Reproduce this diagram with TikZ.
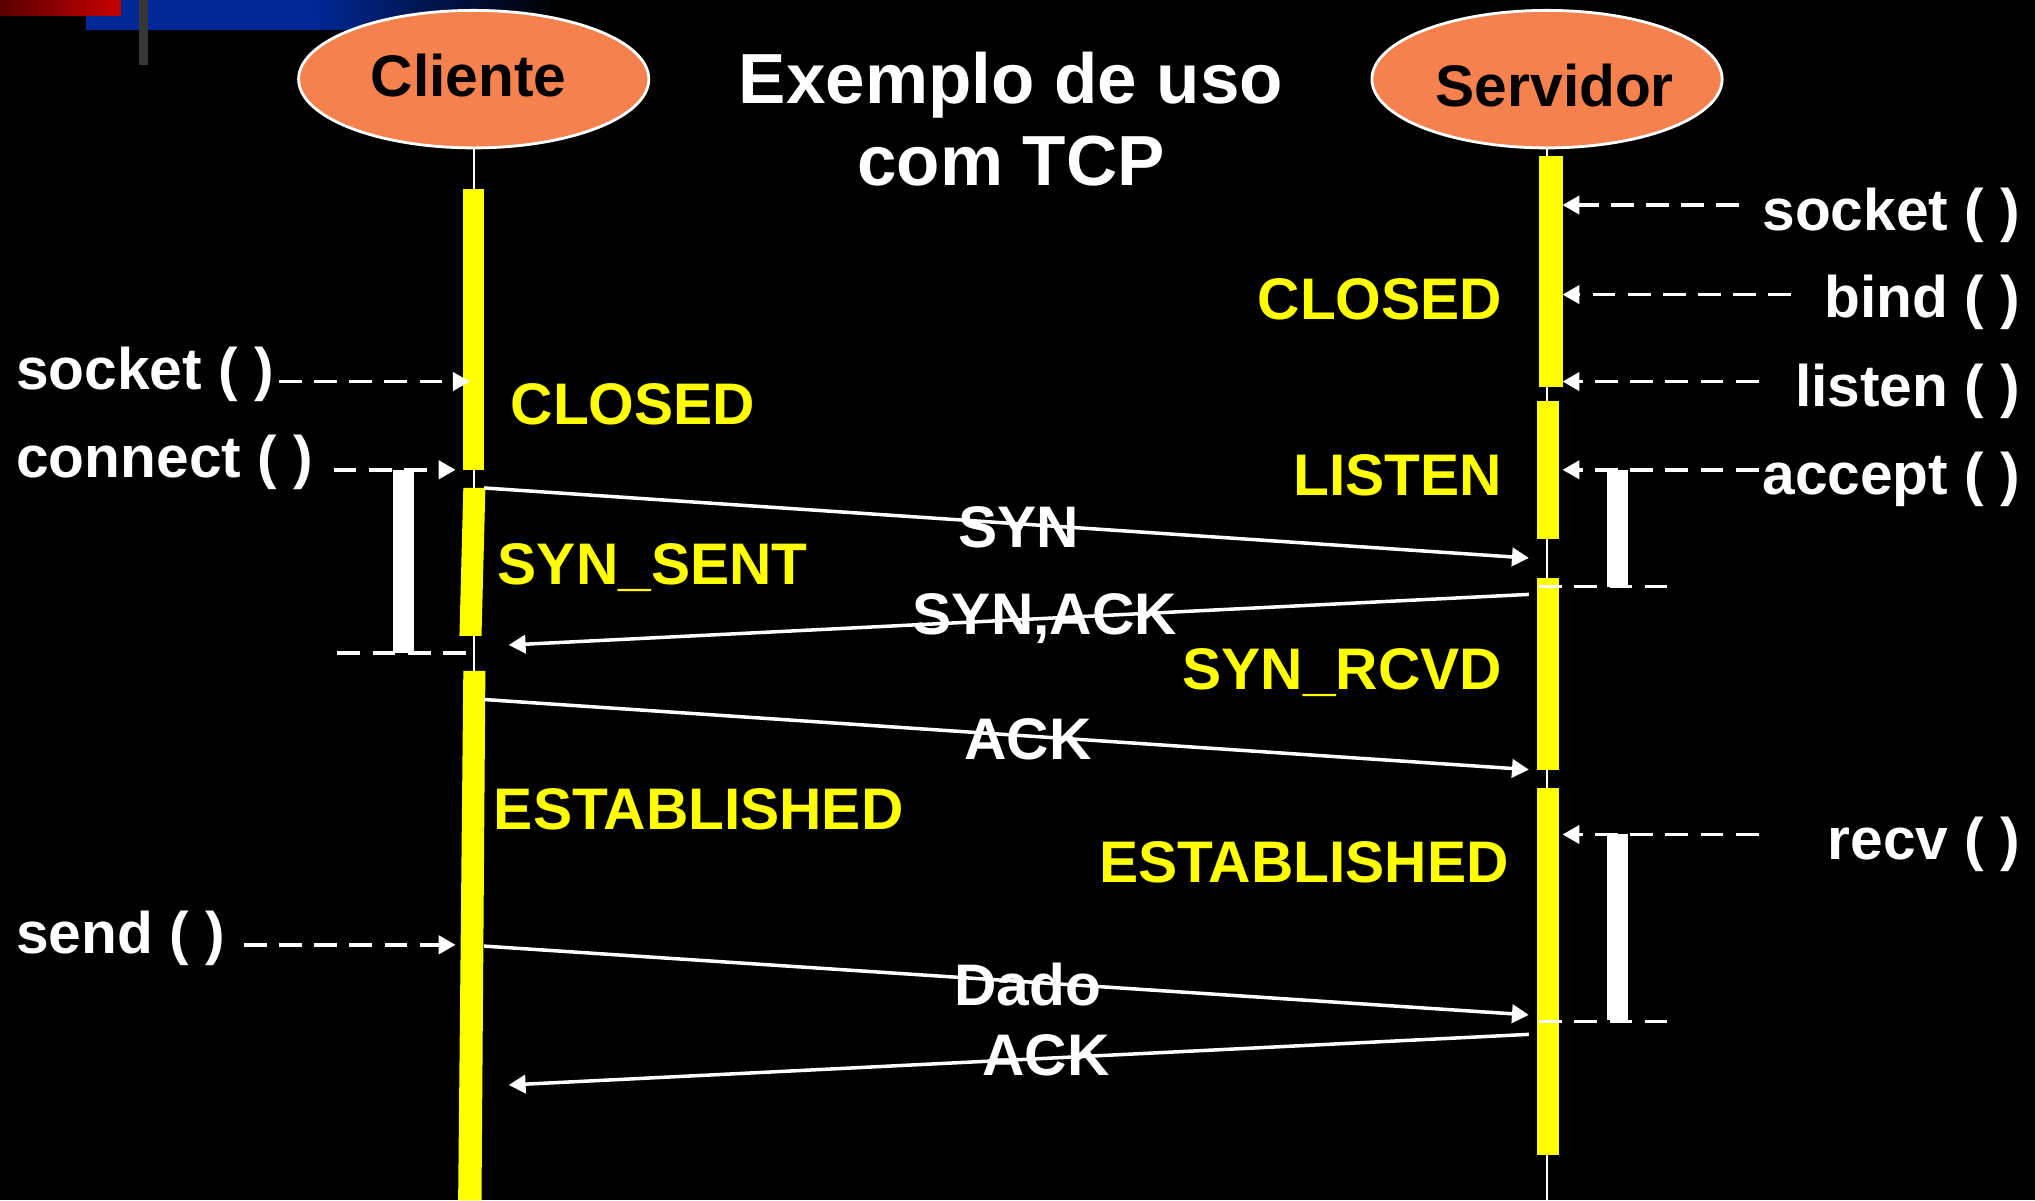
\documentclass[tikz,border=0pt]{standalone}
\usepackage{fontspec}
\setmainfont{Liberation Sans}
\usetikzlibrary{arrows.meta,shapes.geometric}
\definecolor{actorfill}{RGB}{244,129,78}
\definecolor{stateyellow}{RGB}{255,255,0}
\definecolor{barblue}{RGB}{0,40,150}
\definecolor{barred}{RGB}{200,0,0}
\definecolor{darkred}{RGB}{90,0,0}
\definecolor{bargray}{RGB}{55,55,55}
\newcommand\lblfont{\fontsize{16.7}{20}\selectfont\bfseries}
\newcommand\ttlfont{\fontsize{20.2}{23.3}\selectfont\bfseries}
\begin{document}
\begin{tikzpicture}[x=0.012978cm, y=-0.012978cm,
  lbl/.style={text=white, font=\lblfont, inner sep=0pt},
  state/.style={text=stateyellow, font=\lblfont, inner sep=0pt},
  ttl/.style={text=white, font=\ttlfont, inner sep=0pt},
  actor/.style={ellipse, fill=actorfill, draw=white, line width=0.8pt,
    minimum width=3.504cm, minimum height=1.376cm, inner sep=0pt},
  actorname/.style={text=black, font=\lblfont, inner sep=0pt},
  lifeline/.style={white, line width=0.45pt},
  bar/.style={fill=stateyellow},
  waitbar/.style={fill=white},
  tip/.style={-{Triangle[length=4.8pt,width=5.2pt]}},
  call/.style={white, line width=1pt, dash pattern=on 6.5pt off 3.5pt, tip},
  msg/.style={white, line width=1pt, tip},
  tick/.style={white, line width=1pt, dash pattern=on 6.5pt off 3.5pt}]

% background and frame
\fill[black] (0,0) rectangle (1568,925);
\useasboundingbox (0,0) rectangle (1568,925);

% corner decoration
\fill[barblue] (66,0) rectangle (241,23);
\shade[left color=barblue, right color=black] (240,0) rectangle (430,23);
\shade[left color=darkred, right color=barred] (0,0) rectangle (93,12);
\fill[bargray] (107,0) rectangle (114,50);

% title
\node[ttl, anchor=base] (title1) at (779,80) {Exemplo de uso};
\node[ttl, anchor=base] (title2) at (779,143) {com TCP};

% actors
\node[actor] (cli) at (365,61) {};
\node[actorname, anchor=base] (cliname) at (361,74) {Cliente};
\node[actor] (srv) at (1192,61) {};
\node[actorname, anchor=base] (srvname) at (1198,82) {Servidor};

% lifelines
\coordinate (cbot) at (365,925);
\coordinate (sbot) at (1192,925);
\draw[lifeline] (cli.south) -- (cbot);
\draw[lifeline] (srv.south) -- (sbot);

% client activation bars
\fill[bar] (357,146) rectangle (373,362);
\fill[bar] (357,376) -- (374,376) -- (371,490) -- (354,490) -- cycle;
\fill[bar] (357,517) -- (374,517) -- (371,925) -- (353,925) -- cycle;

% server activation bars
\fill[bar] (1186,120) rectangle (1204,298);
\fill[bar] (1184,309) rectangle (1201,415);
\fill[bar] (1184,445) rectangle (1201,593);
\fill[bar] (1184,607) rectangle (1201,890);

% blocking calls
\fill[waitbar] (303,362) rectangle (319,503);
\fill[waitbar] (1238,362) rectangle (1254,452);
\fill[waitbar] (1238,643) rectangle (1254,786);
\coordinate (ct0) at (260,503);  \coordinate (ct1) at (365,503);
\coordinate (st0) at (1186,452); \coordinate (st1) at (1285,452);
\coordinate (su0) at (1186,787); \coordinate (su1) at (1285,787);
\draw[tick] (ct0) -- (ct1);
\draw[tick] (st0) -- (st1);
\draw[tick] (su0) -- (su1);

% client calls
\node[lbl, anchor=base west] (lsock) at (12,300) {socket ( )};
\node[lbl, anchor=base west] (lconn) at (12,368) {connect ( )};
\node[lbl, anchor=base west] (lsend) at (12,735) {send ( )};
\coordinate (lsock0) at (215,294); \coordinate (lsock1) at (362,294);
\coordinate (lconn0) at (257,362); \coordinate (lconn1) at (351,362);
\coordinate (lsend0) at (188,728); \coordinate (lsend1) at (351,728);
\draw[call] (lsock0) -- (lsock1);
\draw[call] (lconn0) -- (lconn1);
\draw[call] (lsend0) -- (lsend1);

% server calls
\node[lbl, anchor=base east] (rsock) at (1557,178) {socket ( )};
\node[lbl, anchor=base east] (rbind) at (1557,245) {bind ( )};
\node[lbl, anchor=base east] (rlist) at (1557,313) {listen ( )};
\node[lbl, anchor=base east] (racc) at (1557,381) {accept ( )};
\node[lbl, anchor=base east] (rrecv) at (1557,662) {recv ( )};
\coordinate (rsock0) at (1340,158); \coordinate (rsock1) at (1204,158);
\coordinate (rbind0) at (1380,227); \coordinate (rbind1) at (1204,227);
\coordinate (rlist0) at (1355,294); \coordinate (rlist1) at (1204,294);
\coordinate (racc0) at (1355,362);  \coordinate (racc1) at (1204,362);
\coordinate (rrecv0) at (1355,643); \coordinate (rrecv1) at (1204,643);
\draw[call] (rsock0) -- (rsock1);
\draw[call] (rbind0) -- (rbind1);
\draw[call] (rlist0) -- (rlist1);
\draw[call] (racc0) -- (racc1);
\draw[call] (rrecv0) -- (rrecv1);

% states
\node[state, anchor=base west] (cclosed) at (393,327) {CLOSED};
\node[state, anchor=base west] (csent) at (383,450) {SYN\_SENT};
\node[state, anchor=base west] (cest) at (380,639) {ESTABLISHED};
\node[state, anchor=base east] (sclosed) at (1158,246) {CLOSED};
\node[state, anchor=base east] (slisten) at (1158,382) {LISTEN};
\node[state, anchor=base east] (srcvd) at (1158,531) {SYN\_RCVD};
\node[state, anchor=base east] (sest) at (1163,680) {ESTABLISHED};

% segments exchanged
\coordinate (syn0) at (373,376);   \coordinate (syn1) at (1178,430);
\coordinate (sa0) at (1178,458);   \coordinate (sa1) at (392,497);
\coordinate (ack0) at (373,539);   \coordinate (ack1) at (1178,593);
\coordinate (dado0) at (373,729);  \coordinate (dado1) at (1178,782);
\coordinate (ackb0) at (1178,797); \coordinate (ackb1) at (392,836);
\draw[msg] (syn0) -- (syn1);
\draw[msg] (sa0) -- (sa1);
\draw[msg] (ack0) -- (ack1);
\draw[msg] (dado0) -- (dado1);
\draw[msg] (ackb0) -- (ackb1);
\node[lbl, anchor=base] (synlbl) at (785,422) {SYN};
\node[lbl, anchor=base] (salbl) at (805,489) {SYN,ACK};
\node[lbl, anchor=base] (acklbl) at (792,585) {ACK};
\node[lbl, anchor=base] (dadolbl) at (792,775) {Dado};
\node[lbl, anchor=base] (ackblbl) at (806,829) {ACK};
\end{tikzpicture}
\end{document}
